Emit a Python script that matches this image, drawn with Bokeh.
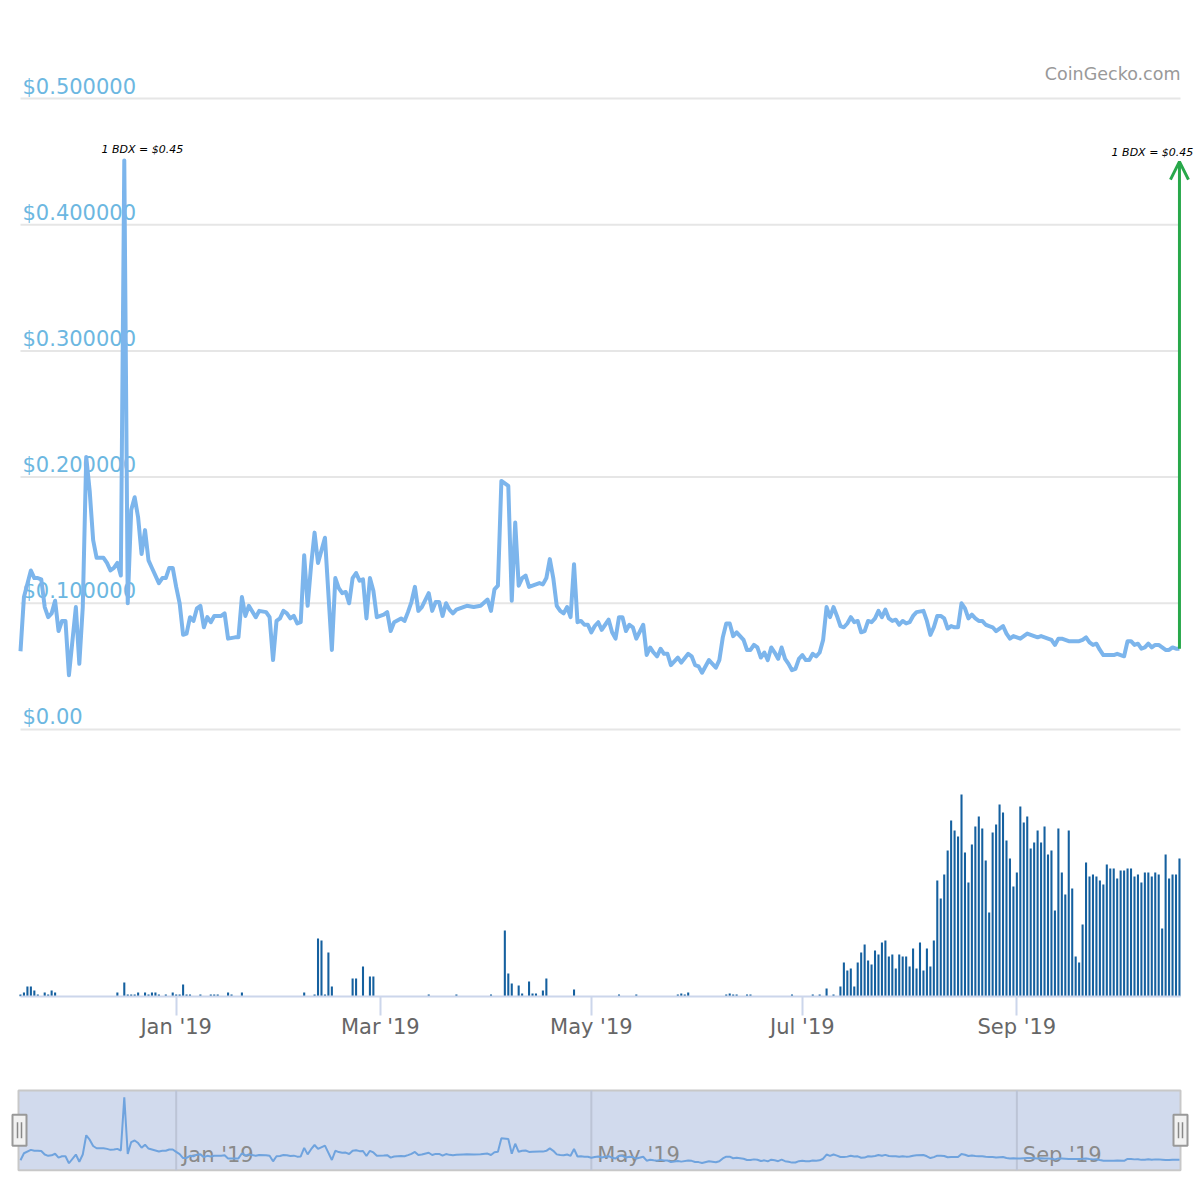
import numpy as np
import pandas as pd
from bokeh.plotting import figure
from bokeh.layouts import column
from bokeh.models import Range1d, FixedTicker, Arrow, OpenHead, Label
from bokeh.embed import file_html
from bokeh.resources import INLINE
from bokeh.core.properties import value

# ---------------- data ----------------
START_DATE = "2018-11-17"

price_day = [
    0, 1, 3, 4, 5, 6, 7, 8, 9, 10,
    11, 12, 13, 14, 16, 17, 18, 19, 20, 21,
    22, 24, 25, 26, 27, 28, 29, 30, 31, 32,
    33, 34, 35, 36, 37, 38, 40, 41, 42, 43,
    44, 45, 46, 47, 48, 49, 50, 51, 52, 53,
    54, 55, 56, 58, 59, 60, 62, 63, 64, 65,
    66, 68, 69, 71, 72, 73, 74, 75, 76, 77,
    78, 79, 80, 81, 82, 83, 84, 85, 86, 88,
    90, 91, 92, 93, 94, 95, 96, 97, 98, 99,
    100, 101, 102, 103, 105, 106, 107, 108, 110, 111,
    112, 113, 114, 115, 116, 118, 119, 120, 121, 122,
    123, 124, 125, 126, 128, 129, 131, 133, 135, 136,
    137, 138, 139, 141, 142, 143, 144, 145, 146, 147,
    148, 150, 151, 152, 153, 154, 155, 156, 157, 158,
    159, 160, 161, 162, 163, 164, 165, 166, 167, 168,
    169, 170, 171, 172, 173, 174, 175, 176, 177, 178,
    180, 181, 182, 183, 184, 185, 186, 187, 188, 190,
    191, 193, 194, 195, 196, 197, 199, 201, 202, 203,
    204, 205, 206, 207, 209, 210, 211, 212, 213, 214,
    215, 216, 217, 218, 219, 220, 221, 222, 223, 224,
    225, 226, 227, 228, 229, 230, 231, 232, 233, 234,
    235, 236, 237, 238, 239, 240, 241, 242, 243, 244,
    245, 246, 247, 248, 249, 250, 251, 252, 253, 254,
    255, 256, 257, 258, 259, 261, 262, 263, 264, 265,
    266, 267, 268, 269, 270, 271, 272, 273, 274, 275,
    276, 277, 278, 279, 280, 281, 282, 283, 284, 285,
    286, 287, 288, 289, 290, 291, 292, 293, 294, 295,
    296, 297, 298, 299, 300, 301, 302, 303, 305, 306,
    307, 308, 309, 310, 311, 312, 313, 314, 316, 317,
    319, 320, 321, 322, 323, 324, 325, 326, 327, 328,
    329, 330, 331, 332, 333, 334, 335,
]
price_usd = [
    0.062, 0.105, 0.126, 0.120, 0.120, 0.119, 0.097, 0.089, 0.092, 0.102,
    0.078, 0.086, 0.086, 0.043, 0.097, 0.052, 0.097, 0.216, 0.189, 0.150,
    0.136, 0.136, 0.132, 0.126, 0.128, 0.132, 0.122, 0.451, 0.100, 0.174,
    0.184, 0.168, 0.139, 0.158, 0.134, 0.128, 0.116, 0.120, 0.120, 0.128,
    0.128, 0.113, 0.100, 0.075, 0.076, 0.089, 0.086, 0.096, 0.098, 0.081,
    0.089, 0.085, 0.090, 0.090, 0.092, 0.072, 0.073, 0.073, 0.105, 0.090,
    0.098, 0.089, 0.094, 0.093, 0.089, 0.055, 0.086, 0.088, 0.094, 0.092,
    0.088, 0.090, 0.084, 0.085, 0.138, 0.098, 0.130, 0.156, 0.132, 0.152,
    0.063, 0.120, 0.112, 0.108, 0.109, 0.100, 0.120, 0.124, 0.118, 0.119,
    0.088, 0.120, 0.110, 0.089, 0.091, 0.093, 0.078, 0.085, 0.088, 0.086,
    0.093, 0.101, 0.113, 0.094, 0.097, 0.108, 0.094, 0.101, 0.101, 0.090,
    0.100, 0.095, 0.092, 0.095, 0.097, 0.098, 0.097, 0.098, 0.103, 0.094,
    0.111, 0.114, 0.197, 0.193, 0.102, 0.164, 0.114, 0.120, 0.122, 0.113,
    0.114, 0.116, 0.115, 0.120, 0.135, 0.120, 0.098, 0.094, 0.092, 0.097,
    0.089, 0.131, 0.085, 0.086, 0.083, 0.083, 0.077, 0.082, 0.085, 0.079,
    0.083, 0.087, 0.077, 0.072, 0.089, 0.089, 0.078, 0.083, 0.081, 0.072,
    0.083, 0.059, 0.065, 0.061, 0.058, 0.064, 0.060, 0.060, 0.051, 0.057,
    0.053, 0.060, 0.058, 0.051, 0.050, 0.045, 0.055, 0.049, 0.055, 0.073,
    0.084, 0.084, 0.074, 0.077, 0.071, 0.063, 0.063, 0.067, 0.065, 0.057,
    0.061, 0.055, 0.065, 0.061, 0.056, 0.065, 0.056, 0.052, 0.047, 0.048,
    0.056, 0.059, 0.055, 0.055, 0.060, 0.058, 0.061, 0.071, 0.097, 0.089,
    0.097, 0.090, 0.082, 0.081, 0.084, 0.089, 0.085, 0.086, 0.077, 0.078,
    0.086, 0.085, 0.088, 0.094, 0.089, 0.095, 0.088, 0.086, 0.087, 0.083,
    0.086, 0.084, 0.085, 0.090, 0.093, 0.094, 0.086, 0.075, 0.081, 0.090,
    0.090, 0.088, 0.080, 0.082, 0.081, 0.081, 0.100, 0.096, 0.088, 0.091,
    0.088, 0.086, 0.086, 0.083, 0.082, 0.081, 0.078, 0.080, 0.082, 0.076,
    0.072, 0.074, 0.073, 0.072, 0.074, 0.076, 0.075, 0.074, 0.073, 0.074,
    0.073, 0.072, 0.071, 0.067, 0.072, 0.072, 0.071, 0.070, 0.070, 0.070,
    0.071, 0.073, 0.069, 0.067, 0.068, 0.063, 0.059, 0.059, 0.059, 0.060,
    0.058, 0.070, 0.070, 0.067, 0.068, 0.064, 0.065, 0.068, 0.065, 0.067,
    0.067, 0.065, 0.063, 0.063, 0.065, 0.064, 0.064,
]

volume_day = [
    0, 1, 2, 3, 4, 5, 7, 8, 9, 10,
    28, 30, 31, 32, 33, 34, 36, 37, 38, 39,
    40, 42, 44, 45, 46, 47, 48, 49, 52, 55,
    56, 57, 60, 61, 64, 82, 85, 86, 87, 88,
    89, 90, 96, 97, 99, 101, 102, 118, 126, 136,
    140, 141, 142, 144, 145, 147, 148, 149, 151, 152,
    160, 173, 178, 190, 191, 192, 193, 204, 205, 206,
    207, 210, 211, 223, 229, 231, 233, 235, 237, 238,
    239, 240, 241, 242, 243, 244, 245, 246, 247, 248,
    249, 250, 251, 252, 253, 254, 255, 256, 257, 258,
    259, 260, 261, 262, 263, 264, 265, 266, 267, 268,
    269, 270, 271, 272, 273, 274, 275, 276, 277, 278,
    279, 280, 281, 282, 283, 284, 285, 286, 287, 288,
    289, 290, 291, 292, 293, 294, 295, 296, 297, 298,
    299, 300, 301, 302, 303, 304, 305, 306, 307, 308,
    309, 310, 311, 312, 313, 314, 315, 316, 317, 318,
    319, 320, 321, 322, 323, 324, 325, 326, 327, 328,
    329, 330, 331, 332, 333, 334, 335,
]
volume_k = [
    2, 4, 10, 10, 6, 2, 4, 2, 6, 4,
    4, 14, 2, 2, 2, 4, 4, 2, 4, 4,
    2, 2, 4, 2, 2, 12, 2, 2, 2, 2,
    2, 2, 4, 2, 4, 4, 2, 58, 56, 2,
    44, 10, 18, 18, 30, 20, 20, 2, 2, 2,
    66, 23, 13, 11, 3, 15, 3, 3, 6, 18,
    7, 2, 2, 2, 3, 2, 4, 2, 3, 2,
    2, 2, 2, 2, 2, 2, 8, 2, 10, 34,
    26, 28, 10, 34, 44, 52, 36, 32, 46, 42,
    54, 56, 40, 42, 28, 42, 40, 40, 30, 48,
    28, 54, 26, 48, 30, 56, 116, 98, 122, 146,
    176, 166, 160, 202, 144, 114, 152, 170, 180, 168,
    136, 84, 164, 172, 192, 184, 156, 138, 110, 124,
    190, 174, 180, 148, 154, 166, 154, 170, 142, 146,
    86, 168, 124, 102, 166, 108, 40, 34, 72, 134,
    120, 122, 120, 116, 112, 132, 128, 128, 118, 126,
    126, 128, 128, 120, 122, 114, 124, 124, 120, 124,
    122, 68, 142, 118, 122, 122, 138,
]

price_ticks = [0.0, 0.1, 0.2, 0.3, 0.4, 0.5]
price_tick_labels = ["$0.00", "$0.100000", "$0.200000", "$0.300000", "$0.400000", "$0.500000"]
axis_tick_dates = ["2019-01-01", "2019-03-01", "2019-05-01", "2019-07-01", "2019-09-01"]
axis_tick_labels = ["Jan '19", "Mar '19", "May '19", "Jul '19", "Sep '19"]
nav_tick_dates = ["2019-01-01", "2019-05-01", "2019-09-01"]
nav_tick_labels = ["Jan '19", "May '19", "Sep '19"]
annotation_price = 0.45
annotation_text = "1 BDX = $0.45"
credit_text = "CoinGecko.com"

# ---------------- helpers ----------------
DAY_MS = 86400000.0


def to_ms(ts):
    return pd.Timestamp(ts).value / 1e6


t0_ms = to_ms(START_DATE)
price_x = [t0_ms + d * DAY_MS for d in price_day]
vol_x = [t0_ms + d * DAY_MS for d in volume_day]
axis_tick_ms = [int(to_ms(d)) for d in axis_tick_dates]
nav_tick_ms = [int(to_ms(d)) for d in nav_tick_dates]

x_start = price_x[0]
x_end = price_x[-1] + 0.3 * DAY_MS
ms_per_px = (x_end - x_start) / 1160.0
EXT = 18 * ms_per_px          # extra room so edge annotations are not clipped

FONT = "DejaVu Sans"
LINE_BLUE = "#7cb5ec"

# ---------------- main chart ----------------
p = figure(width=1200, height=1060, x_axis_type="datetime", y_axis_location=None,
           x_range=Range1d(x_start - EXT, x_end + EXT), y_range=Range1d(-0.2116, 0.5460),
           output_backend="svg", toolbar_location=None, title=None,
           min_border_left=2, min_border_right=2, min_border_top=40, min_border_bottom=64)
p.outline_line_color = None
p.background_fill_color = "white"
p.border_fill_color = "white"
for g in p.grid:
    g.visible = False

# horizontal price gridlines, limited to the data span
p.segment(x0=[x_start] * len(price_ticks), y0=price_ticks,
          x1=[x_end] * len(price_ticks), y1=price_ticks,
          line_color="#e6e6e6", line_width=2, level="underlay")

ax = p.xaxis[0]
ax.bounds = (x_start, x_end)
ax.ticker = FixedTicker(ticks=axis_tick_ms)
ax.major_label_overrides = {t: lab for t, lab in zip(axis_tick_ms, axis_tick_labels)}
ax.axis_line_color = "#ccd6eb"
ax.axis_line_width = 2
ax.major_tick_line_color = "#ccd6eb"
ax.major_tick_line_width = 2
ax.major_tick_out = 19
ax.major_tick_in = 0
ax.minor_tick_line_color = None
ax.major_label_text_font = FONT
ax.major_label_text_font_size = "21px"
ax.major_label_text_color = "#666666"
ax.major_label_standoff = -1

p.extra_y_ranges = {"volume": Range1d(0, 956)}
p.vbar(x=vol_x, top=volume_k, bottom=0, width=0.6 * DAY_MS, y_range_name="volume",
       fill_color="#15609f", line_color=None)

p.text(x=[x_start] * len(price_ticks), y=price_ticks, text=price_tick_labels,
       text_font=value(FONT), text_font_size="21px", text_color="#6cb7e1",
       text_baseline="alphabetic", text_align="left", x_offset=2, y_offset=-12)

p.line(price_x, price_usd, line_color=LINE_BLUE, line_width=4, line_join="round")

i_max = int(np.argmax(price_usd))
p.add_layout(Label(x=price_x[i_max], y=annotation_price, text=annotation_text,
                   text_align="center", text_baseline="alphabetic", x_offset=18, y_offset=12,
                   text_font=FONT, text_font_style="italic", text_font_size="11px",
                   text_color="black"))
p.add_layout(Label(x=price_x[-1], y=annotation_price, text=annotation_text,
                   text_align="center", text_baseline="alphabetic", x_offset=-27, y_offset=9,
                   text_font=FONT, text_font_style="italic", text_font_size="11px",
                   text_color="black"))
p.add_layout(Label(x=x_end, y=price_ticks[-1], text=credit_text, text_align="right",
                   text_baseline="alphabetic", y_offset=25, text_font=FONT,
                   text_font_size="17.5px", text_color="#999999"))

green = "#28a84a"
p.add_layout(Arrow(end=OpenHead(size=18, line_color=green, line_width=3),
                   x_start=price_x[-1], y_start=price_usd[-1],
                   x_end=price_x[-1], y_end=annotation_price,
                   line_color=green, line_width=3))

# ---------------- navigator ----------------
nav_top = 0.493
n = figure(width=1200, height=140, x_axis_location=None, y_axis_location=None,
           x_range=Range1d(x_start - EXT, x_end + EXT), y_range=Range1d(-0.0266, 0.518),
           output_backend="svg", toolbar_location=None, title=None,
           min_border_left=2, min_border_right=2, min_border_top=26, min_border_bottom=26)
n.outline_line_color = None
n.background_fill_color = "white"
n.border_fill_color = "white"
for g in n.grid:
    g.visible = False

n.quad(left=[x_start - 2 * ms_per_px], right=[x_end], bottom=[0], top=[nav_top],
       fill_color="#d1daed", line_color="#c8c8c8", line_width=2)
n.segment(x0=nav_tick_ms, y0=[0] * len(nav_tick_ms), x1=nav_tick_ms, y1=[nav_top] * len(nav_tick_ms),
          line_color="#bcc4d6", line_width=2)
n.text(x=nav_tick_ms, y=[0] * len(nav_tick_ms), text=nav_tick_labels,
       text_font=value(FONT), text_font_size="21px", text_color="#8a8a8a",
       text_baseline="alphabetic", text_align="left", x_offset=6, y_offset=-15)
n.line(price_x, price_usd, line_color="#6fa3de", line_width=2)

hx = [x_start - 1 * ms_per_px, x_end]
hy = nav_top / 2
n.rect(x=hx, y=[hy, hy], width=14, height=31, width_units="screen", height_units="screen",
       fill_color="#f2f2f2", line_color="#999999", line_width=2)
dy = 8 / 161.6
for sgn in (-1, 1):
    xs = [x + sgn * 2 * ms_per_px for x in hx]
    n.segment(x0=xs, y0=[hy - dy] * 2, x1=xs, y1=[hy + dy] * 2, line_color="#888888", line_width=1.5)

layout = column(p, n, spacing=0)
open("out.html", "w").write(file_html(layout, INLINE))
